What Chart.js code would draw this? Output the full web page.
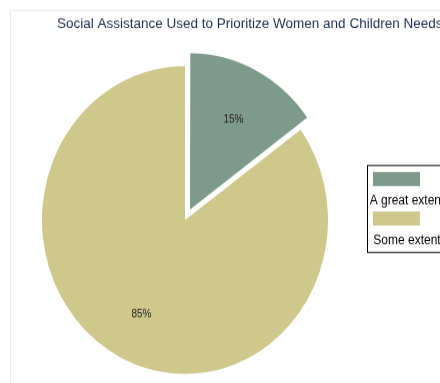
<!DOCTYPE html>
<html>
<head>
<meta charset="utf-8">
<script src="https://cdn.jsdelivr.net/npm/chart.js@4/dist/chart.umd.min.js"></script>
<style>
  html, body { margin: 0; padding: 0; background: #fff; overflow: hidden; }
</style>
</head>
<body>
<canvas id="c" width="440" height="356" style="display:block;width:440px;height:383px"></canvas>
<script>
// Survey answers and their shares (percent)
const categories = ['A great extent', 'Some extent'];
const shares = [15, 85];
const sliceColors = ['#7e9a8d', '#cec88c'];
const titleText = 'Social Assistance Used to Prioritize Women and Children Needs';

// The canvas is drawn 356px tall and shown 383px tall, so the pie comes out slightly oval.
const K = 383 / 356;
const Y = v => v / K;
const FONT = '"Liberation Sans", Arial, sans-serif';

const decorations = {
  id: 'decorations',
  beforeDraw(chart) {
    const ctx = chart.ctx;
    ctx.save();
    ctx.fillStyle = '#ffffff';
    ctx.fillRect(0, 0, chart.width, chart.height);
    ctx.strokeStyle = '#e3ebef';
    ctx.lineWidth = 1;
    ctx.strokeRect(10.5, Y(10.5), 600, 600);
    ctx.restore();
  },
  afterDatasetsDraw(chart) {
    const ctx = chart.ctx;
    const meta = chart.getDatasetMeta(0);
    ctx.save();
    // slice value labels
    ctx.fillStyle = '#222222';
    ctx.font = '10px ' + FONT;
    ctx.textAlign = 'center';
    ctx.textBaseline = 'middle';
    meta.data.forEach((arc, i) => {
      const p = arc.getProps(['x', 'y', 'startAngle', 'endAngle', 'outerRadius'], true);
      const mid = (p.startAngle + p.endAngle) / 2;
      const r = p.outerRadius * 0.67 + (arc.options.offset || 0) / 4;
      ctx.fillText(shares[i] + '%', p.x + Math.cos(mid) * r, p.y + Math.sin(mid) * r + Y(2.5));
    });

    // title
    ctx.fillStyle = '#1c2d50';
    ctx.font = '13.5px ' + FONT;
    ctx.textAlign = 'left';
    ctx.textBaseline = 'alphabetic';
    ctx.fillText(titleText, 57, Y(28.3));

    // legend box with stacked keys
    ctx.strokeStyle = '#000000';
    ctx.lineWidth = 1;
    ctx.strokeRect(367.5, Y(165.5), 200, Y(87));
    ctx.font = '12px ' + FONT;
    ctx.textAlign = 'center';
    categories.forEach((name, i) => {
      const top = 172 + i * 39.5;
      ctx.fillStyle = sliceColors[i];
      ctx.fillRect(373, Y(top), 47, Y(14));
      ctx.fillStyle = '#000000';
      ctx.fillText(name, 407, Y(top + 32.5));
    });
    ctx.restore();
  }
};

new Chart(document.getElementById('c'), {
  type: 'pie',
  data: {
    labels: categories,
    datasets: [{
      data: shares,
      backgroundColor: sliceColors,
      borderWidth: 0,
      offset: [44, 0],
      hoverOffset: 0
    }]
  },
  options: {
    responsive: false,
    animation: false,
    radius: 143,
    layout: { padding: { left: 10, right: 80, top: 53, bottom: 0 } },
    events: [],
    plugins: {
      legend: { display: false },
      title: { display: false },
      tooltip: { enabled: false }
    }
  },
  plugins: [decorations]
});
</script>
</body>
</html>
